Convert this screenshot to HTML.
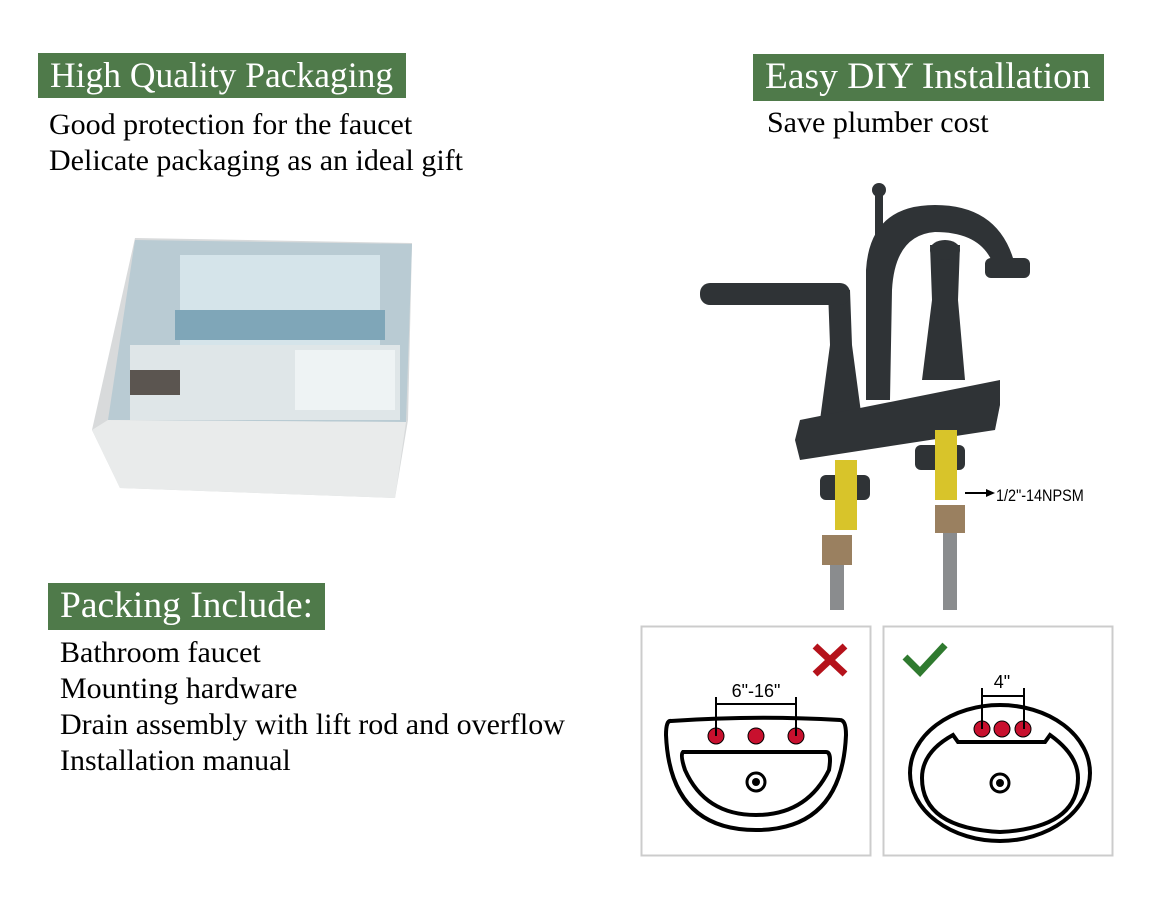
<!DOCTYPE html>
<html><head><meta charset="utf-8"><style>
body{margin:0;width:1167px;height:911px;background:#fff;position:relative;overflow:hidden;font-family:"Liberation Serif",serif}
.h{position:absolute;background:#4f7a4a;color:#fff;line-height:46px;padding-left:12px;box-sizing:border-box;white-space:nowrap}
.t{position:absolute;font-size:30px;color:#000;white-space:nowrap;line-height:36px}
svg{position:absolute;left:0;top:0}
</style></head><body>
<div class="h" style="left:38px;top:53px;width:368px;height:45px;font-size:35.5px;line-height:44px">High Quality Packaging</div>
<div class="t" style="left:49px;top:107px">Good protection for the faucet</div>
<div class="t" style="left:49px;top:143px">Delicate packaging as an ideal gift</div>
<div class="h" style="left:753px;top:54px;width:351px;height:47px;font-size:37.5px">Easy DIY Installation</div>
<div class="t" style="left:767px;top:105px">Save plumber cost</div>
<div class="h" style="left:48px;top:583px;width:277px;height:47px;font-size:37.5px">Packing Include:</div>
<div class="t" style="left:60px;top:635px">Bathroom faucet</div>
<div class="t" style="left:60px;top:671px">Mounting hardware</div>
<div class="t" style="left:60px;top:707px">Drain assembly with lift rod and overflow</div>
<div class="t" style="left:60px;top:743px">Installation manual</div>
<svg width="1167" height="911" viewBox="0 0 1167 911">
<polygon points="135,238 412,243 408,420 395,498 120,488 92,430" fill="#d8dadb"/>
<polygon points="135,240 412,244 406,422 108,420" fill="#b9cbd3"/>
<rect x="180" y="255" width="200" height="90" fill="#d5e4ea"/>
<rect x="175" y="310" width="210" height="30" fill="#7fa6b8"/>
<rect x="130" y="345" width="270" height="75" fill="#dfe6e8"/>
<rect x="130" y="370" width="50" height="25" fill="#5b5550"/>
<rect x="295" y="350" width="100" height="60" fill="#eef3f4"/>
<polygon points="92,430 108,420 406,422 395,498 120,488" fill="#e9ebeb"/>
<g fill="#2f3336">
<rect x="875" y="185" width="8" height="70"/><circle cx="879" cy="190" r="7"/>
<path d="M866 400 L866 270 Q870 205 935 205 Q1000 205 1015 265 L995 270 Q985 232 935 232 Q895 235 892 290 L890 400 Z"/>
<rect x="985" y="258" width="45" height="20" rx="6"/>
<path d="M828 290 L850 290 L852 345 L862 420 L820 420 L830 345 Z"/>
<rect x="700" y="283" width="150" height="22" rx="10"/>
<path d="M930 245 L960 245 L958 300 L965 380 L922 380 L932 300 Z"/>
<ellipse cx="945" cy="250" rx="15" ry="10"/>
<path d="M800 420 L1000 380 L1000 405 L995 430 L800 460 L795 440 Z"/>
<rect x="820" y="475" width="50" height="25" rx="6"/>
<rect x="915" y="445" width="50" height="25" rx="6"/>
</g>
<rect x="835" y="460" width="22" height="70" fill="#d8c42a"/>
<rect x="935" y="430" width="22" height="70" fill="#d8c42a"/>
<rect x="822" y="535" width="30" height="30" fill="#9a8060"/>
<rect x="935" y="505" width="30" height="28" fill="#9a8060"/>
<rect x="830" y="565" width="14" height="45" fill="#8a8c8e"/>
<rect x="943" y="533" width="14" height="77" fill="#8a8c8e"/>
<line x1="965" y1="493" x2="988" y2="493" stroke="#000" stroke-width="2"/>
<polygon points="995,493 986,489 986,497" fill="#000"/>
<text x="996" y="501" font-family="Liberation Sans,sans-serif" font-size="17" transform="translate(996 0) scale(0.85 1) translate(-996 0)">1/2"-14NPSM</text>
<rect x="641.5" y="626.5" width="229" height="229" fill="#fff" stroke="#ccc" stroke-width="2"/>
<rect x="883.5" y="626.5" width="229" height="229" fill="#fff" stroke="#ccc" stroke-width="2"/>
<path d="M815 646 L845 674 M845 646 L815 674" stroke="#b5121b" stroke-width="7"/>
<path d="M905 657 L920 672 L945 645" stroke="#2f7a2f" stroke-width="7" fill="none"/>
<path d="M671 721 Q666 720 666 735 Q670 830 756 830 Q842 830 846 735 Q846 720 840 720 Q756 715 671 721Z" fill="none" stroke="#000" stroke-width="4"/>
<path d="M683 752 Q680 755 685 770 Q705 815 756 815 Q807 815 829 770 Q832 752 826 752 Z" fill="none" stroke="#000" stroke-width="4"/>
<circle cx="756" cy="782" r="9" fill="#fff" stroke="#000" stroke-width="3"/><circle cx="756" cy="782" r="4" fill="#000"/>
<g fill="#c8102e" stroke="#000" stroke-width="1"><circle cx="716" cy="736" r="8"/><circle cx="756" cy="736" r="8"/><circle cx="796" cy="736" r="8"/><circle cx="982" cy="729" r="8"/><circle cx="1002" cy="729" r="8"/><circle cx="1023" cy="729" r="8"/></g>
<path d="M716 697 V736 M796 697 V736 M716 704 H796 M982 688 V729 M1024 688 V729 M982 696 H1024" stroke="#000" stroke-width="2"/>
<text x="756" y="697" text-anchor="middle" font-family="Liberation Sans,sans-serif" font-size="18">6"-16"</text>
<text x="1002" y="688" text-anchor="middle" font-family="Liberation Sans,sans-serif" font-size="18">4"</text>
<ellipse cx="1000" cy="773" rx="90" ry="68" fill="none" stroke="#000" stroke-width="4"/>
<path d="M953 735 L958 742 L1045 742 L1050 735 Q1078 755 1078 778 Q1078 828 1000 832 Q922 828 922 778 Q922 752 953 735Z" fill="none" stroke="#000" stroke-width="4"/>
<circle cx="1000" cy="783" r="9" fill="#fff" stroke="#000" stroke-width="3"/><circle cx="1000" cy="783" r="4" fill="#000"/>
</svg>
</body></html>
